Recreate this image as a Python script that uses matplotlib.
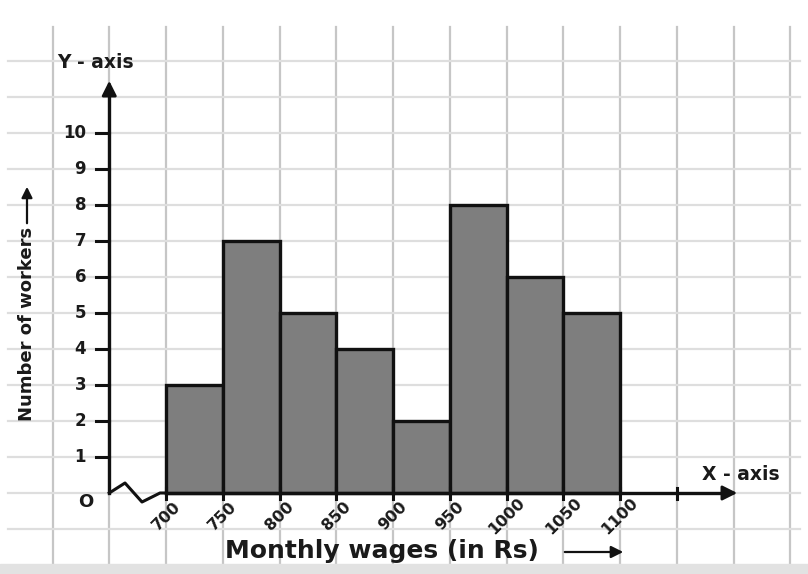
import numpy as np
import matplotlib
matplotlib.use("Agg")
import matplotlib.pyplot as plt

# histogram data
class_edges = [700, 750, 800, 850, 900, 950, 1000, 1050, 1100]
workers = [3, 7, 5, 4, 2, 8, 6, 5]
y_ticks = list(range(1, 11))
x_tick_labels = ["700", "750", "800", "850", "900", "950", "1000", "1050", "1100"]

W, H = 808, 574
px_per_50 = 56.75   # horizontal pixels per 50 Rs
px_per_unit = 36.0  # vertical pixels per worker
x0_px, y0_px = 166, 493  # where (700, 0) sits


def X(px):
    return 700 + (px - x0_px) * 50 / px_per_50


def Y(py):
    return (y0_px - py) / px_per_unit


fig = plt.figure(figsize=(W / 100, H / 100), dpi=100)
ax = fig.add_axes([0, 0, 1, 1])
ax.set_xlim(X(0), X(W))
ax.set_ylim(Y(H), Y(0))
ax.axis("off")

# graph paper
bold = dict(fontfamily="DejaVu Sans", fontweight="bold", color="#1a1a1a")
for gx in np.arange(600, 1300, 50):
    ax.plot([gx, gx], [Y(563), Y(27)], color="#c6c6c6", lw=1.6, zorder=0)
for gy in range(-1, 13):
    ax.plot([X(8), X(800)], [gy, gy], color="#dedede", lw=1.6, zorder=0)
ax.axhspan(Y(574), Y(564), color="#e2e2e2", zorder=0)

# bars
lefts = class_edges[:-1]
ax.bar(lefts, workers, width=50, align="edge", color="#7e7e7e",
       edgecolor="#111111", linewidth=2.4, zorder=3)

# y axis with arrow
ax.plot([650, 650], [0, Y(90)], color="#111111", lw=2.4, zorder=4)
ax.annotate("", xy=(650, Y(78)), xytext=(650, Y(95)),
            arrowprops=dict(arrowstyle="-|>", color="#111111", lw=2,
                            mutation_scale=22), zorder=4)
for t in y_ticks:
    ax.plot([X(96), 650], [t, t], color="#111111", lw=2.2, zorder=4)
    ax.text(X(86), t, str(t), ha="right", va="center", fontsize=12, **bold)

# x axis with break
zig_x = [650, X(125), X(142), X(160), 700]
zig_y = [0, Y(483), Y(502), 0, 0]
ax.plot(zig_x, zig_y, color="#111111", lw=2.2, zorder=4)
ax.plot([700, X(725)], [0, 0], color="#111111", lw=2.4, zorder=4)
ax.annotate("", xy=(X(740), 0), xytext=(X(720), 0),
            arrowprops=dict(arrowstyle="-|>", color="#111111", lw=2,
                            mutation_scale=22), zorder=4)
for e in class_edges + [1150]:
    ax.plot([e, e], [Y(499), Y(488)], color="#111111", lw=2.2, zorder=4)
for e, lab in zip(class_edges, x_tick_labels):
    ax.text(e, Y(516), lab, ha="center", va="center", rotation=45,
            fontsize=11.5, **bold)

ax.text(X(86), Y(502), "O", ha="center", va="center", fontsize=13, **bold)
ax.text(X(96), Y(62), "Y - axis", ha="center", va="center", fontsize=13.5, **bold)
ax.text(X(741), Y(474), "X - axis", ha="center", va="center", fontsize=13.5, **bold)

# axis titles
ax.text(X(382), Y(551), "Monthly wages (in Rs)", ha="center", va="center",
        fontsize=18, **bold)
ax.annotate("", xy=(X(626), Y(552)), xytext=(X(562), Y(552)),
            arrowprops=dict(arrowstyle="-|>", color="#111111", lw=1.6,
                            mutation_scale=18))
ax.text(X(27), Y(324), "Number of workers", ha="center", va="center",
        rotation=90, fontsize=13, **bold)
ax.annotate("", xy=(X(27), Y(184)), xytext=(X(27), Y(226)),
            arrowprops=dict(arrowstyle="-|>", color="#111111", lw=1.6,
                            mutation_scale=16))

fig.savefig("out.png", dpi=100, facecolor="white")
